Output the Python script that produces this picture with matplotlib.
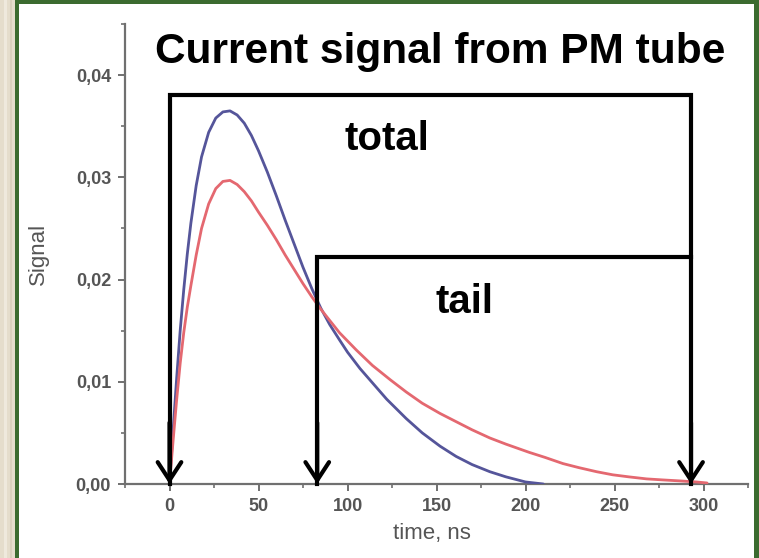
import matplotlib
matplotlib.use("Agg")
import matplotlib.pyplot as plt
from matplotlib.patches import Rectangle
from matplotlib.ticker import MultipleLocator, FuncFormatter

plt.rcParams['font.family'] = ['Liberation Sans', 'DejaVu Sans']

# ---- data ----
blue_t = [0, 2, 4, 6, 8, 10, 12, 15, 18, 22, 26, 30, 34, 38, 42, 46, 50, 55, 60, 65,
          70, 75, 80, 85, 90, 95.5, 100, 107, 114, 122, 133, 142, 152, 161, 170, 180,
          189, 200, 210]
blue_v = [0, 0.0052, 0.0103, 0.0150, 0.0190, 0.0225, 0.0255, 0.0292, 0.0320, 0.0344,
          0.0358, 0.0364, 0.0365, 0.0361, 0.0353, 0.0341, 0.0326, 0.0305, 0.0282,
          0.0258, 0.0235, 0.0212, 0.0191, 0.0172, 0.0156, 0.0141, 0.0129, 0.0113,
          0.0099, 0.0083, 0.0064, 0.0050, 0.0037, 0.0027, 0.0019, 0.0012, 0.0007,
          0.0002, 0.0]

red_t = [0, 2, 4, 6, 8, 10, 12, 15, 18, 22, 26, 30, 34, 38, 42, 46, 50, 55, 60, 65, 70,
         75, 80, 85, 90, 95.5, 105, 114, 124, 133, 142, 152, 161, 170, 180, 189, 202,
         211, 221, 230, 240, 249, 258, 268, 277, 287, 296, 302]
red_v = [0, 0.0042, 0.0082, 0.0118, 0.0148, 0.0173, 0.0194, 0.0224, 0.0250, 0.0274,
         0.0289, 0.0296, 0.0297, 0.0293, 0.0286, 0.0277, 0.0266, 0.0253, 0.0239,
         0.0224, 0.0210, 0.0196, 0.0183, 0.0171, 0.0160, 0.0148, 0.0131, 0.0116,
         0.0102, 0.0090, 0.0079, 0.0069, 0.0061, 0.0053, 0.0045, 0.0039, 0.0031,
         0.0026, 0.0020, 0.0016, 0.0012, 0.0009, 0.0007, 0.0005, 0.0004, 0.0003,
         0.0002, 0.0001]

x_ticks = [0, 50, 100, 150, 200, 250, 300]
y_ticks = [0.00, 0.01, 0.02, 0.03, 0.04]

# bracket annotation values (time, level)
total_start, tail_start, window_end = 0, 83, 293
total_level, tail_level = 0.0381, 0.0222
total_label_pos = (122, 0.0327)
tail_label_pos = (165.5, 0.0167)

title = "Current signal from PM tube"
x_label = "time, ns"
y_label = "Signal"

# ---- figure ----
fig = plt.figure(figsize=(7.59, 5.58), dpi=100)
W, H = 759, 558
def frect(x0, y0, w, h, color):
    fig.add_artist(Rectangle((x0 / W, 1 - (y0 + h) / H), w / W, h / H,
                             transform=fig.transFigure, color=color, lw=0, zorder=-5))
frect(0, 0, 16, H, '#e5ddcc')
frect(4, 0, 3, H, '#efe9dd')
frect(10, 0, 2, H, '#d9d0bd')
frect(15, 0, 4, H, '#3b6b2f')
frect(15, 0, W - 15, 4, '#3b6b2f')
frect(754, 0, 5, H, '#3b6b2f')

ax = fig.add_axes([125 / W, 1 - 484 / H, 623 / W, 460 / H])
ax.set_facecolor('none')
ax.plot(blue_t, blue_v, color='#55559a', lw=2.0, zorder=3, solid_capstyle='round',
        solid_joinstyle='round')
ax.plot(red_t, red_v, color='#e46870', lw=2.0, zorder=3, solid_capstyle='round',
        solid_joinstyle='round')

ax.set_xlim(-25, 325)
ax.set_ylim(0, 0.045)
for s in ['top', 'right']:
    ax.spines[s].set_visible(False)
for s in ['left', 'bottom']:
    ax.spines[s].set_color('#707070')
    ax.spines[s].set_linewidth(1.6)

ax.set_xticks(x_ticks)
ax.set_yticks(y_ticks)
ax.xaxis.set_minor_locator(MultipleLocator(25))
ax.yaxis.set_minor_locator(MultipleLocator(0.005))
ax.yaxis.set_major_formatter(FuncFormatter(lambda v, p: f"{v:.2f}".replace('.', ',')))
ax.tick_params(which='major', direction='out', length=5, width=1.4, color='#707070',
               labelsize=13, labelcolor='#555555', pad=5)
ax.tick_params(which='minor', direction='out', length=3, width=1.2, color='#707070')
for lab in ax.get_xticklabels() + ax.get_yticklabels():
    lab.set_fontweight('bold')

ax.set_xlabel(x_label, fontsize=16, color='#555555')
ax.set_ylabel(y_label, fontsize=16, color='#555555')
ax.xaxis.set_label_coords(0.493, -0.085)
ax.yaxis.set_label_coords(-0.122, 0.5)

# brackets
lw = 3.0
ax.plot([total_start, total_start, window_end, window_end],
        [0.0, total_level, total_level, tail_level], color='black', lw=lw,
        zorder=5, solid_joinstyle='miter', clip_on=False)
ax.plot([tail_start, tail_start, window_end, window_end],
        [0.0, tail_level, tail_level, 0.0], color='black', lw=lw,
        zorder=5, solid_joinstyle='miter', clip_on=False)
for xa in [total_start, tail_start, window_end]:
    ax.annotate('', xy=(xa, 0.0), xytext=(xa, 0.006),
                arrowprops=dict(arrowstyle='->,head_length=1.3,head_width=0.85',
                                mutation_scale=10, lw=lw, color='black',
                                shrinkA=0, shrinkB=0), zorder=6)

ax.text(*total_label_pos, 'total', fontsize=29, fontweight='bold', ha='center',
        va='baseline', zorder=6)
ax.text(*tail_label_pos, 'tail', fontsize=29, fontweight='bold', ha='center',
        va='baseline', zorder=6)

fig.text(440 / W, 1 - 63 / H, title, fontsize=30.5, fontweight='bold', ha='center',
         va='baseline')

fig.savefig('out.png', dpi=100)
